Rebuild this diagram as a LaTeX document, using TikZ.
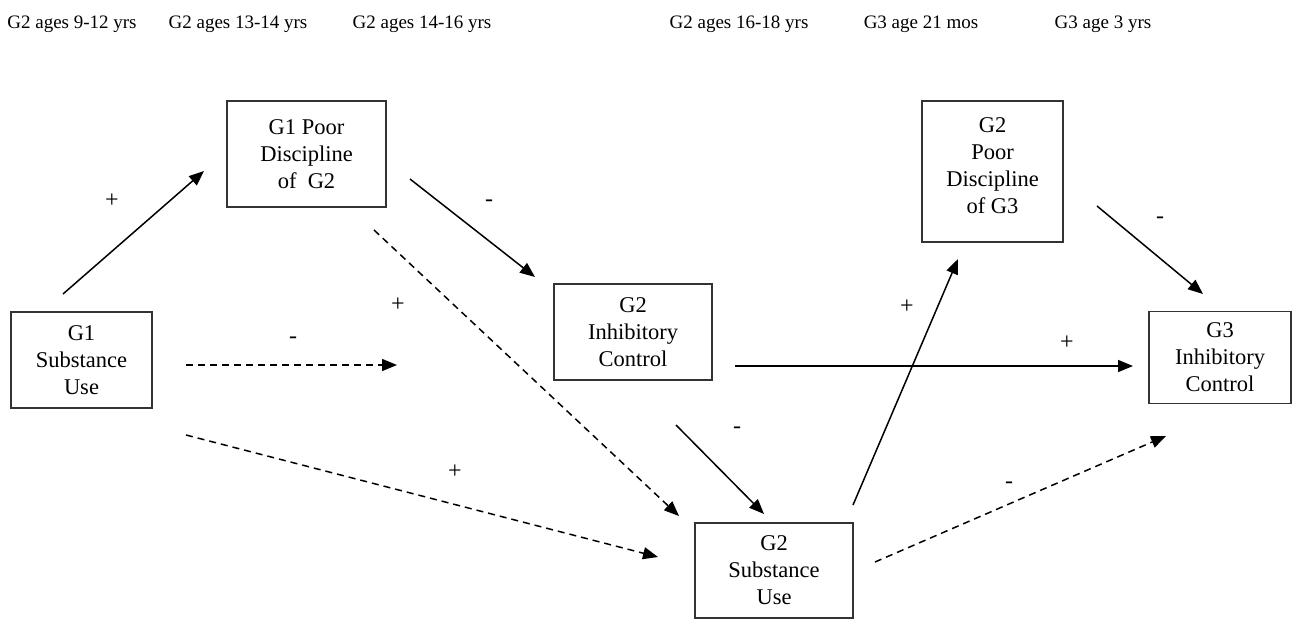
\documentclass[tikz,border=0pt]{standalone}
\usepackage{fontspec}
\setmainfont{Liberation Serif}
\usetikzlibrary{arrows.meta}
\begin{document}
\begin{tikzpicture}[x=1pt,y=-1pt,
 boxfont/.style={align=center,font=\fontsize{22.5}{27}\selectfont},
 box/.style={draw=black!80,line width=1.5pt,inner sep=0pt,boxfont},
 hdr/.style={font=\fontsize{19}{22}\selectfont,inner sep=0pt,anchor=base},
 sgn/.style={font=\fontsize{24}{26}\selectfont,inner sep=0pt},
 arr/.style={line width=1.5pt,-{Triangle[length=15pt,width=12pt]}},
 darr/.style={arr,dash pattern=on 7pt off 5pt}]
\useasboundingbox (0,0) rectangle (1295,621);
% headers
\node[hdr] (h1) at (72,28) {G2 ages 9-12 yrs};
\node[hdr] (h2) at (238,28) {G2 ages 13-14 yrs};
\node[hdr] (h3) at (422,28) {G2 ages 14-16 yrs};
\node[hdr] (h4) at (739,28) {G2 ages 16-18 yrs};
\node[hdr] (h5) at (921,28) {G3 age 21 mos};
\node[hdr] (h6) at (1103,28) {G3 age 3 yrs};
% boxes
\node[box,minimum width=141pt,minimum height=96pt] (g1su) at (81.5,360) {G1\\Substance\\Use};
\node[box,minimum width=159pt,minimum height=106pt] (g1pd) at (306.5,154) {G1 Poor\\Discipline\\of~~G2};
\node[box,minimum width=158pt,minimum height=96pt] (g2ic) at (633,332) {G2\\Inhibitory\\Control};
\node[box,minimum width=141pt,minimum height=141pt,
  label={[boxfont,inner sep=0pt,yshift=6pt]center:G2\\Poor\\Discipline\\of G3}] (g2pd) at (992.5,171.5) {};
\node[box,minimum width=142pt,minimum height=92pt] (g3ic) at (1220,357.5) {G3\\Inhibitory\\Control};
\node[box,minimum width=158pt,minimum height=95pt] (g2su) at (774,570.5) {G2\\Substance\\Use};
% connector ends
\coordinate (a1s) at (63,294);  \coordinate (a1e) at (204,171);
\coordinate (a2s) at (410,179); \coordinate (a2e) at (535,277);
\coordinate (a3s) at (186,365); \coordinate (a3e) at (397,365);
\coordinate (a4s) at (374,230); \coordinate (a4e) at (679,516);
\coordinate (a5s) at (186,435); \coordinate (a5e) at (658,557);
\coordinate (a6s) at (676,425); \coordinate (a6e) at (764,514);
\coordinate (a7s) at (853,505); \coordinate (a7e) at (958,259);
\coordinate (a8s) at (735,366); \coordinate (a8e) at (1133,366);
\coordinate (a9s) at (1097,206); \coordinate (a9e) at (1203,294);
\coordinate (a10s) at (875,562); \coordinate (a10e) at (1166,436);
% connectors
\draw[arr] (a1s) -- (a1e);
\draw[arr] (a2s) -- (a2e);
\draw[darr] (a3s) -- (a3e);
\draw[darr] (a4s) -- (a4e);
\draw[darr] (a5s) -- (a5e);
\draw[arr] (a6s) -- (a6e);
\draw[arr] (a7s) -- (a7e);
\draw[arr] (a8s) -- (a8e);
\draw[arr] (a9s) -- (a9e);
\draw[darr] (a10s) -- (a10e);
% signs
\node[sgn] (s1) at (112,201) {+};
\node[sgn] (s2) at (489,203) {-};
\node[sgn] (s3) at (398,305) {+};
\node[sgn] (s4) at (293,340) {-};
\node[sgn] (s5) at (455,472) {+};
\node[sgn] (s6) at (737,430) {-};
\node[sgn] (s7) at (907,307) {+};
\node[sgn] (s8) at (1067,343) {+};
\node[sgn] (s9) at (1160,220) {-};
\node[sgn] (s10) at (1009,485) {-};
\end{tikzpicture}
\end{document}
